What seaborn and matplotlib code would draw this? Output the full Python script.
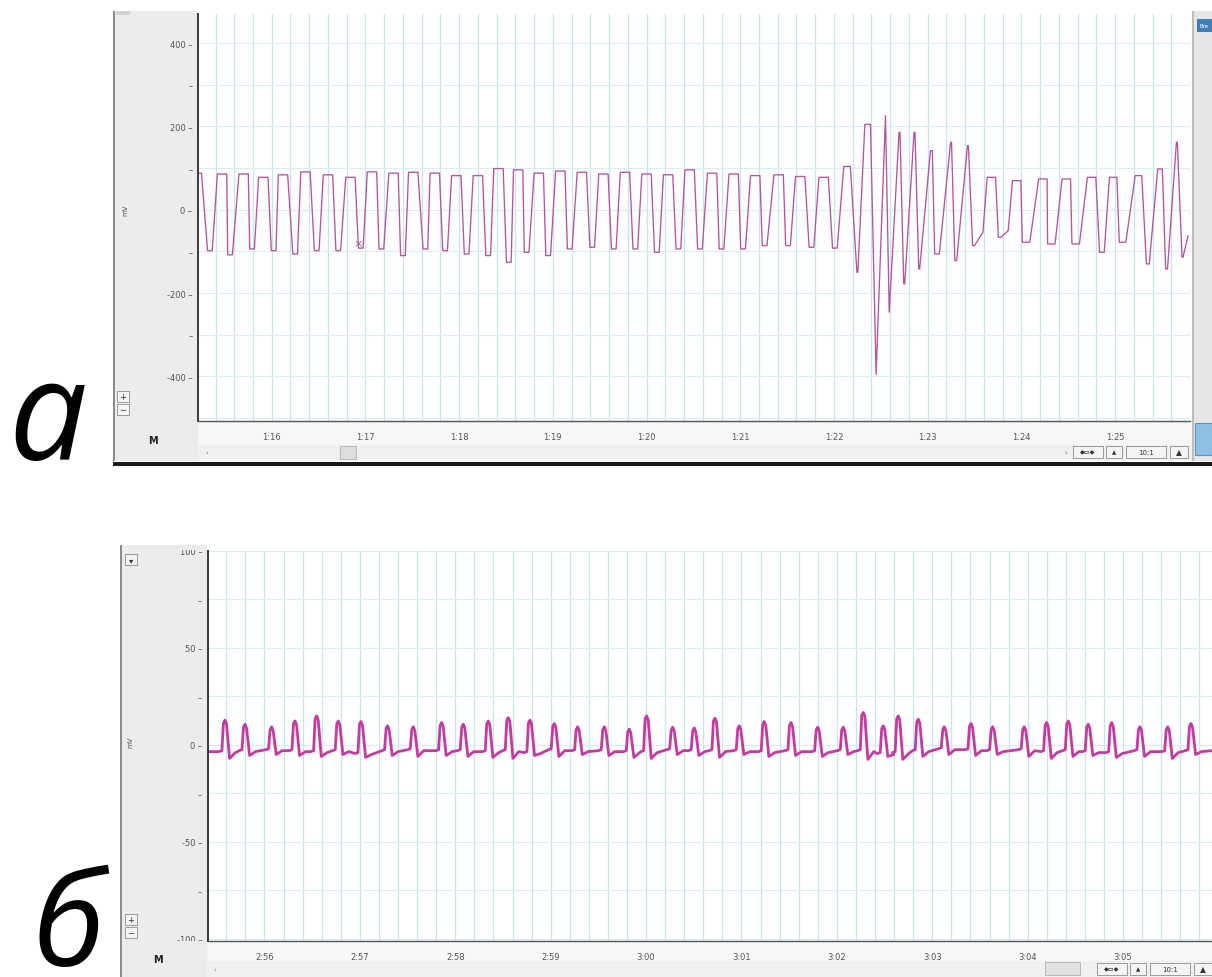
import numpy as np
import pandas as pd
import matplotlib
matplotlib.use("Agg")
import matplotlib.pyplot as plt
from matplotlib.patches import Rectangle
from matplotlib.ticker import FuncFormatter, MultipleLocator
import seaborn as sns

sns.set_style("white")
plt.rcParams['font.family'] = ['DejaVu Sans']

W, H = 1212, 978

# panel a: alternating extremes of the trace (time s, mV) and flat width (s)
a_t = [75.23, 75.34, 75.47, 75.555, 75.70, 75.79, 75.91, 76.02, 76.12, 76.25,
       76.36, 76.48, 76.60, 76.71, 76.84, 76.95, 77.07, 77.17, 77.30, 77.40,
       77.51, 77.64, 77.74, 77.85, 77.97, 78.08, 78.20, 78.31, 78.42, 78.53,
       78.63, 78.72, 78.85, 78.95, 79.08, 79.18, 79.31, 79.42, 79.54, 79.65,
       79.77, 79.88, 80.00, 80.11, 80.23, 80.34, 80.46, 80.57, 80.70, 80.80,
       80.93, 81.03, 81.16, 81.26, 81.41, 81.51, 81.64, 81.76, 81.89, 82.01,
       82.14, 82.25, 82.36, 82.45, 82.55, 82.59, 82.70, 82.75, 82.86, 82.91,
       83.04, 83.10, 83.25, 83.30, 83.43, 83.49, 83.59, 83.68, 83.77, 83.86,
       83.95, 84.05, 84.23, 84.32, 84.48, 84.58, 84.75, 84.86, 84.98, 85.08,
       85.25, 85.35, 85.48, 85.55, 85.66, 85.72, 85.78]
a_mv = [88, -98, 86, -108, 86, -94, 78, -98, 84, -106,
        91, -98, 84, -98, 78, -92, 91, -94, 88, -110,
        90, -94, 88, -98, 82, -106, 82, -110, 99, -126,
        96, -102, 88, -110, 93, -94, 90, -90, 86, -94,
        90, -94, 86, -102, 84, -94, 96, -94, 88, -94,
        86, -94, 82, -86, 84, -86, 80, -90, 78, -92,
        104, -150, 205, -395, 226, -246, 186, -178, 186, -142,
        142, -106, 162, -122, 154, -86, -54, 78, -66, -50,
        70, -78, 74, -82, 74, -82, 78, -102, 78, -78,
        82, -130, 98, -142, 162, -114, -62]
a_w = [0.04, 0.05, 0.10, 0.05, 0.10, 0.05, 0.10, 0.05, 0.10, 0.05,
       0.10, 0.05, 0.10, 0.05, 0.10, 0.05, 0.10, 0.05, 0.10, 0.05,
       0.10, 0.05, 0.10, 0.05, 0.10, 0.05, 0.10, 0.05, 0.10, 0.05,
       0.10, 0.05, 0.10, 0.05, 0.10, 0.05, 0.10, 0.05, 0.10, 0.05,
       0.10, 0.05, 0.10, 0.05, 0.10, 0.05, 0.10, 0.05, 0.10, 0.05,
       0.10, 0.05, 0.10, 0.05, 0.10, 0.05, 0.10, 0.05, 0.10, 0.05,
       0.07, 0.01, 0.06, 0.0, 0.0, 0.0, 0.01, 0.01, 0.01, 0.01,
       0.02, 0.05, 0.01, 0.02, 0.01, 0.02, 0.0, 0.09, 0.03, 0.0,
       0.09, 0.08, 0.09, 0.08, 0.09, 0.08, 0.09, 0.05, 0.08, 0.07,
       0.07, 0.03, 0.05, 0.02, 0.01, 0.01, 0.0]

# panel b: one entry per beat
b_peak_t = [175.586, 175.796, 176.075, 176.32, 176.547, 176.774, 177.012, 177.291, 177.56, 177.857,
            178.084, 178.346, 178.556, 178.783, 179.038, 179.283, 179.562, 179.824, 180.006, 180.279,
            180.505, 180.722, 180.977, 181.239, 181.519, 181.799, 182.067, 182.277, 182.486, 182.643,
            182.853, 183.126, 183.406, 183.633, 183.964, 184.199, 184.426, 184.635, 184.881, 185.177,
            185.468, 185.712]
b_peak_mv = [12.7, 10.6, 9.3, 12.3, 14.9, 12.3, 12.0, 9.8, 9.3, 11.5,
             10.6, 12.3, 14.0, 12.7, 11.0, 9.3, 9.3, 8.1, 14.9, 9.1,
             8.7, 13.7, 9.8, 12.0, 11.5, 9.1, 9.1, 16.7, 9.8, 14.9,
             13.2, 9.3, 11.0, 9.3, 9.3, 11.5, 12.3, 10.6, 11.5, 9.3,
             9.3, 11.0]
b_dip_mv = [-7.0, -5.5, -5.0, -5.5, -6.0, -5.0, -6.5, -5.5, -6.0, -5.5,
            -6.0, -6.5, -7.0, -5.5, -6.0, -5.0, -5.5, -6.5, -7.0, -5.0,
            -5.5, -6.5, -5.0, -6.0, -5.5, -6.0, -5.0, -7.5, -6.0, -7.5,
            -6.0, -5.0, -5.5, -5.0, -6.0, -7.0, -6.0, -5.5, -6.5, -6.0,
            -7.0, -5.0]
b_base_mv = [-3.5, -3.0, -2.5, -3.0, -3.5, -3.0, -4.5, -3.0, -2.5, -3.0,
             -3.0, -3.5, -3.0, -4.0, -2.5, -3.0, -3.0, -3.5, -3.5, -2.5,
             -3.0, -3.0, -3.0, -3.5, -3.0, -3.5, -3.0, -3.0, -4.5, -4.0,
             -3.0, -2.0, -2.5, -3.0, -2.5, -3.5, -3.0, -3.5, -4.0, -3.0,
             -3.5, -3.0]

a_xlim = (75.213, 85.80)
a_ylim = (-507, 470)
b_xlim = (175.405, 185.932)
b_ylim = (-100.9, 99.8)


def flat_trace(t, v, w):
    xs, ys = [], []
    for ti, vi, wi in zip(t, v, w):
        if wi > 0:
            xs += [ti - wi / 2, ti + wi / 2]
            ys += [vi, vi]
        else:
            xs.append(ti)
            ys.append(vi)
    return pd.DataFrame({"t": xs, "mV": ys})


def beat_trace(tp, pk, dip, base, t0, t1):
    xs, ys = [t0], [base[0]]
    for t, p, d, b in zip(tp, pk, dip, base):
        xs += [t - 0.06, t - 0.032, t - 0.016, t, t + 0.016, t + 0.048, t + 0.11]
        ys += [b, b + 0.5, p - 1.5, p, p - 2.0, d, b - 0.5]
    xs.append(t1)
    ys.append(base[-1])
    return pd.DataFrame({"t": xs, "mV": ys})


def mmss(x, pos):
    x = int(round(x))
    return f"{x // 60}:{x % 60:02d}"


def fx(x):
    return x / W


def fy(y):
    return 1 - y / H


def rect(fig, x0, y0, x1, y1, **kw):
    kw.setdefault("zorder", -1)
    kw.setdefault("lw", 0)
    fig.add_artist(Rectangle((fx(x0), fy(y1)), (x1 - x0) / W, (y1 - y0) / H,
                             transform=fig.transFigure, **kw))


def button(fig, x0, y0, x1, y1, label, fs=5.5):
    rect(fig, x0, y0, x1, y1, facecolor="#f4f4f4", edgecolor="#9a9a9a", lw=0.7, zorder=2)
    fig.text(fx((x0 + x1) / 2), fy((y0 + y1) / 2), label, fontsize=fs,
             color="#333333", ha="center", va="center", zorder=3)


def style_axes(ax, xlim, ylim, ylabels):
    ax.set_xlim(*xlim)
    ax.set_ylim(*ylim)
    ax.set_facecolor("white")
    ax.set_xlabel("")
    ax.set_ylabel("")
    ax.xaxis.set_major_locator(MultipleLocator(1))
    ax.xaxis.set_minor_locator(MultipleLocator(0.2))
    ax.xaxis.set_major_formatter(FuncFormatter(mmss))
    yt = list(ylabels.keys())
    ax.set_yticks(yt)
    ax.set_yticklabels([ylabels[v] for v in yt])
    ax.tick_params(axis="y", length=0, pad=4, labelsize=6, labelcolor="#555555")
    ax.tick_params(axis="x", which="major", direction="out", length=6, width=0.8,
                   color="#555555", pad=2, labelsize=6, labelcolor="#555555")
    ax.tick_params(axis="x", which="minor", direction="out", length=3, width=0.8,
                   color="#555555")
    ax.grid(which="both", axis="x", color="#c6e3ee", lw=0.9)
    ax.grid(which="major", axis="y", color="#d9edf3", lw=0.8)
    for s in ["top", "right"]:
        ax.spines[s].set_visible(False)
    ax.spines["left"].set_color("#3a3a3a")
    ax.spines["left"].set_linewidth(1.4)
    ax.spines["bottom"].set_color("#555555")
    ax.spines["bottom"].set_linewidth(1.0)


fig = plt.figure(figsize=(W / 100, H / 100), dpi=100)
fig.patch.set_facecolor("white")

# ---------- window chrome, panel a ----------
rect(fig, 113, 12, 198, 462, facecolor="#ececec")
rect(fig, 113, 12, 115, 462, facecolor="#8c8c8c")
rect(fig, 198, 422, 1192, 462, facecolor="#f7f7f7")
rect(fig, 198, 446, 1192, 461, facecolor="#f0f0f0")
rect(fig, 340, 447, 356, 460, facecolor="#dedede", edgecolor="#b0b0b0", lw=0.6)
rect(fig, 1192, 12, 1212, 462, facecolor="#e6e6e6")
rect(fig, 1192, 12, 1194, 462, facecolor="#bdbdbd")
rect(fig, 1197, 20, 1212, 33, facecolor="#3d7fb8", zorder=2)
fig.text(fx(1199), fy(27), "Bre", fontsize=4, color="white", va="center", zorder=3)
rect(fig, 1195, 424, 1212, 456, facecolor="#8fbfe3", edgecolor="#5a95c8", lw=0.8, zorder=2)
rect(fig, 113, 463, 1212, 467, facecolor="#1a1a1a", zorder=2)
rect(fig, 116, 12, 130, 16, facecolor="#d2d2d2")

# ---------- window chrome, panel b ----------
rect(fig, 120, 546, 207, 978, facecolor="#ececec")
rect(fig, 120, 546, 122, 978, facecolor="#8c8c8c")
rect(fig, 207, 942, 1212, 978, facecolor="#f7f7f7")
rect(fig, 207, 962, 1212, 978, facecolor="#f0f0f0")
rect(fig, 1045, 963, 1080, 976, facecolor="#e2e2e2", edgecolor="#b0b0b0", lw=0.6)

# ---------- panel a ----------
ax_a = fig.add_axes([fx(198), fy(422), (1190 - 198) / W, (422 - 15) / H])
df_a = flat_trace(a_t, a_mv, a_w)
sns.lineplot(data=df_a, x="t", y="mV", ax=ax_a, estimator=None, sort=False,
             color="#b4549f", lw=0.95)
a_labels = {400: "400 –", 300: "–", 200: "200 –", 100: "–", 0: "0 –",
            -100: "–", -200: "-200 –", -300: "–", -400: "-400 –", -500: ""}
style_axes(ax_a, a_xlim, a_ylim, a_labels)
ax_a.text(76.92, -80, "×", fontsize=8, color="#7a7a7a", ha="center", va="center")

# ---------- panel b ----------
ax_b = fig.add_axes([fx(207.7), fy(941.7), (1212 - 207.7) / W, (941.7 - 551.7) / H])
df_b = beat_trace(b_peak_t, b_peak_mv, b_dip_mv, b_base_mv, b_xlim[0], b_xlim[1])
sns.lineplot(data=df_b, x="t", y="mV", ax=ax_b, estimator=None, sort=False,
             color="#c43aa0", lw=2.0)
b_labels = {100: "100 –", 75: "–", 50: "50 –", 25: "–", 0: "0 –",
            -25: "–", -50: "-50 –", -75: "–", -100: "-100 –"}
style_axes(ax_b, b_xlim, b_ylim, b_labels)

# the end labels of panel b sit half outside the window
rect(fig, 150, 538, 206.5, 546, facecolor="white", zorder=1, antialiased=False)
rect(fig, 150, 546, 206.5, 551, facecolor="#ececec", zorder=1, antialiased=False)
rect(fig, 150, 941.5, 206.5, 952, facecolor="#ececec", zorder=1, antialiased=False)

# ---------- side labels and buttons ----------
for (x, y) in [(125, 210), (130, 742)]:
    fig.text(fx(x), fy(y), "mV", fontsize=5, color="#555555", rotation=90,
             ha="center", va="center")
for (x, y) in [(123, 398), (131, 921)]:
    button(fig, x - 6, y - 6, x + 6, y + 5, "+", fs=6)
    button(fig, x - 6, y + 7, x + 6, y + 18, "−", fs=6)
button(fig, 125, 555, 137, 566, "▾", fs=6)
for (x, y) in [(153, 441), (158, 960)]:
    fig.text(fx(x), fy(y), "M", fontsize=7, fontweight="bold", color="#222222",
             ha="center", va="center", zorder=3)

# bottom-right controls
for (x0, y) in [(1073, 453), (1097, 970)]:
    button(fig, x0, y - 6, x0 + 30, y + 6, "◆▭◆", fs=4.5)
    button(fig, x0 + 33, y - 6, x0 + 49, y + 6, "▲", fs=4)
    button(fig, x0 + 53, y - 6, x0 + 93, y + 6, "10:1", fs=5)
    button(fig, x0 + 97, y - 6, x0 + 115, y + 6, "▲", fs=5.5)
fig.text(fx(1066), fy(453), "›", fontsize=5, color="#555555", ha="center", va="center")
fig.text(fx(207), fy(453), "‹", fontsize=5, color="#777777", ha="center", va="center")
fig.text(fx(215), fy(970), "‹", fontsize=5, color="#777777", ha="center", va="center")

# panel letters
fig.text(fx(8), fy(460), "а", fontsize=100, fontstyle="italic",
         family=["Open Sans", "DejaVu Sans"], color="black", va="baseline", ha="left")
fig.text(fx(32), fy(966), "б", fontsize=95, fontstyle="italic",
         family=["Open Sans", "DejaVu Sans"], color="black", va="baseline", ha="left")

fig.savefig("out.png", dpi=100, facecolor="white")
